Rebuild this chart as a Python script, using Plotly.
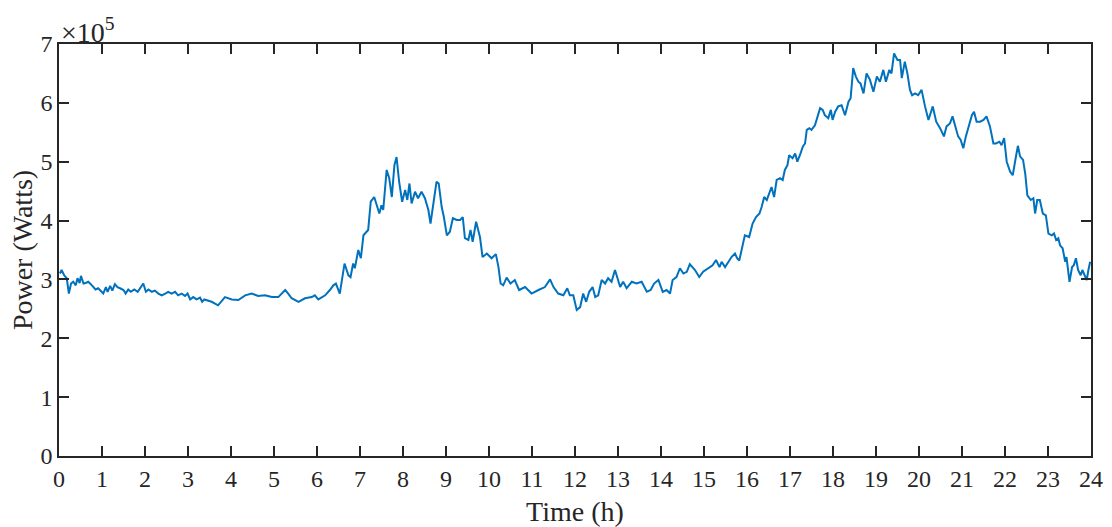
import plotly.graph_objects as go

# Load profile over one day: time in hours, power in units of 1e5 W
time_h = [
    0.02, 0.06, 0.12, 0.18, 0.23, 0.28, 0.33, 0.39, 0.43, 0.48, 0.51, 0.57, 0.62, 0.68, 0.74, 0.80,
    0.85, 0.91, 0.98, 1.03, 1.09, 1.13, 1.19, 1.24, 1.30, 1.36, 1.42, 1.50, 1.55, 1.61, 1.67, 1.75,
    1.83, 1.91, 1.96, 2.02, 2.08, 2.16, 2.23, 2.31, 2.39, 2.47, 2.54, 2.62, 2.70, 2.77, 2.85, 2.93,
    2.99, 3.05, 3.12, 3.20, 3.28, 3.33, 3.38,
    3.55, 3.70, 3.86, 4.02, 4.17, 4.33, 4.48, 4.63, 4.79, 4.95, 5.10, 5.26, 5.33, 5.41, 5.57, 5.72,
    5.88, 5.95, 6.03, 6.19, 6.30, 6.38,
    6.44, 6.53, 6.64, 6.73, 6.78, 6.84, 6.88, 6.96, 7.02, 7.08, 7.19, 7.25, 7.33, 7.39, 7.45, 7.50,
    7.54, 7.62, 7.68, 7.74, 7.80, 7.85, 7.91, 7.98, 8.05, 8.10, 8.15, 8.20, 8.28, 8.35, 8.43, 8.51,
    8.59, 8.64, 8.70, 8.78, 8.83, 8.90, 8.95, 9.02, 9.09, 9.16, 9.25, 9.33, 9.39, 9.44, 9.52, 9.57,
    9.62, 9.70, 9.79, 9.85, 9.95,
    10.06, 10.16, 10.22, 10.27, 10.33, 10.41, 10.50, 10.60, 10.70, 10.84, 10.99, 11.15, 11.30, 11.42,
    11.50, 11.61, 11.73, 11.82, 11.88, 11.96, 12.04, 12.12, 12.19, 12.26, 12.33, 12.41, 12.47, 12.54,
    12.62, 12.70, 12.77, 12.85, 12.93, 12.98, 13.05, 13.12, 13.20, 13.32, 13.43, 13.55, 13.67, 13.76,
    13.84, 13.94, 14.04, 14.13, 14.21, 14.27, 14.36, 14.44, 14.52, 14.60, 14.67, 14.79, 14.89, 14.98,
    15.10, 15.20, 15.28, 15.36,
    15.41, 15.49, 15.57, 15.64, 15.72, 15.77, 15.82, 15.90, 15.95, 16.05, 16.13, 16.21, 16.29, 16.34,
    16.40, 16.46, 16.52, 16.57, 16.63, 16.69, 16.77, 16.83, 16.88, 16.94, 16.98, 17.06, 17.12, 17.17,
    17.23, 17.30, 17.35, 17.39, 17.45, 17.50, 17.58, 17.64, 17.70, 17.76, 17.81, 17.89, 17.95, 17.99,
    18.05, 18.12, 18.20, 18.28, 18.36, 18.41, 18.47, 18.53, 18.59, 18.64, 18.71, 18.78, 18.86, 18.94,
    19.02,
    19.09, 19.17, 19.23, 19.31, 19.36, 19.42, 19.50, 19.56, 19.60, 19.67, 19.73, 19.79, 19.84, 19.91,
    19.98, 20.06, 20.14, 20.22, 20.32, 20.40, 20.49, 20.58, 20.64, 20.72, 20.78, 20.84, 20.91, 20.97,
    21.03, 21.09, 21.15, 21.23, 21.28, 21.34, 21.42, 21.50, 21.57, 21.65, 21.73, 21.79, 21.87, 21.92,
    21.98, 22.04, 22.12, 22.18, 22.26, 22.30, 22.35, 22.42, 22.47, 22.52, 22.60, 22.66, 22.70, 22.75,
    22.81, 22.88, 22.95, 23.01, 23.09, 23.14, 23.19, 23.24, 23.28, 23.34, 23.40, 23.43, 23.50, 23.56,
    23.60, 23.65, 23.70, 23.76, 23.80, 23.86, 23.90, 23.94, 23.98,
]

power_e5 = [
    3.10, 3.16, 3.07, 3.02, 2.76, 2.93, 2.96, 2.90, 3.02, 2.94, 3.06, 2.93, 2.94, 2.96, 2.92, 2.87,
    2.83, 2.85, 2.79, 2.76, 2.87, 2.79, 2.89, 2.81, 2.92, 2.87, 2.85, 2.82, 2.76, 2.83, 2.79, 2.83,
    2.79, 2.87, 2.93, 2.79, 2.83, 2.79, 2.81, 2.76, 2.73, 2.76, 2.79, 2.76, 2.79, 2.73, 2.76, 2.72,
    2.76, 2.66, 2.70, 2.66, 2.69, 2.62, 2.66,
    2.62, 2.56, 2.70, 2.66, 2.65, 2.73, 2.76, 2.72, 2.73, 2.70, 2.70, 2.82, 2.76, 2.68, 2.62, 2.68,
    2.70, 2.73, 2.66, 2.73, 2.82, 2.90,
    2.93, 2.76, 3.27, 3.07, 3.04, 3.27, 3.19, 3.50, 3.36, 3.75, 3.84, 4.32, 4.40, 4.26, 4.12, 4.26,
    4.18, 4.86, 4.72, 4.40, 4.94, 5.08, 4.66, 4.32, 4.52, 4.35, 4.63, 4.29, 4.49, 4.38, 4.49, 4.38,
    4.18, 3.95, 4.23, 4.66, 4.63, 4.23, 4.06, 3.75, 3.81, 4.04, 4.01, 4.01, 4.06, 3.70, 3.67, 3.84,
    3.64, 3.98, 3.72, 3.38, 3.44,
    3.36, 3.43, 3.21, 2.93, 2.90, 3.03, 2.93, 2.99, 2.82, 2.87, 2.76, 2.82, 2.87, 3.00,
    2.87, 2.76, 2.73, 2.85, 2.73, 2.73, 2.48, 2.53, 2.76, 2.62, 2.79, 2.87, 2.70, 2.73,
    2.99, 2.93, 3.02, 2.96, 3.16, 3.04, 2.87, 2.96, 2.85, 2.96, 2.93, 2.96, 2.79, 2.82,
    2.93, 2.99, 2.79, 2.82, 2.76, 2.99, 3.04, 3.19, 3.10, 3.13, 3.26, 3.16, 3.04, 3.13,
    3.19, 3.24, 3.33, 3.21,
    3.30, 3.21, 3.30, 3.38, 3.44, 3.36, 3.32, 3.61, 3.75, 3.72, 3.95, 4.06, 4.12, 4.23,
    4.40, 4.35, 4.46, 4.57, 4.40, 4.69, 4.72, 4.69, 4.86, 4.94, 5.11, 5.06, 5.14, 5.00,
    5.11, 5.26, 5.31, 5.54, 5.57, 5.54, 5.62, 5.79, 5.91, 5.88, 5.79, 5.74, 5.88, 5.71,
    5.85, 5.94, 5.96, 5.79, 6.02, 6.08, 6.59, 6.45, 6.36, 6.33, 6.16, 6.50, 6.39, 6.19,
    6.45,
    6.36, 6.56, 6.36, 6.56, 6.50, 6.84, 6.73, 6.73, 6.42, 6.70, 6.50, 6.22, 6.13, 6.16,
    6.13, 6.22, 5.94, 5.71, 5.94, 5.68, 5.57, 5.43, 5.60, 5.65, 5.77, 5.62, 5.43, 5.37,
    5.23, 5.43, 5.60, 5.79, 5.85, 5.68, 5.68, 5.71, 5.77, 5.60, 5.31, 5.31, 5.34, 5.28,
    5.40, 5.00, 4.83, 4.77, 5.11, 5.27, 5.09, 5.03, 4.80, 4.43, 4.35, 4.38, 4.12, 4.35,
    4.35, 4.12, 4.09, 3.78, 3.75, 3.78, 3.67, 3.70, 3.58, 3.53, 3.30, 3.38, 2.96, 3.21,
    3.24, 3.36, 3.16, 3.07, 3.16, 3.07, 2.99, 3.16, 3.30,
]

x_ticks = list(range(0, 25))
y_ticks = list(range(0, 8))

power_w = [p * 1e5 for p in power_e5]

axis_color = "#262626"
font_family = "Liberation Serif, Times New Roman, serif"

fig = go.Figure()
fig.add_trace(go.Scatter(
    x=time_h, y=power_w, mode="lines",
    line=dict(color="#0072BD", width=2),
    showlegend=False, hoverinfo="skip",
))

fig.update_layout(
    width=1112, height=527,
    margin=dict(l=59, r=21, t=44, b=71),
    paper_bgcolor="white", plot_bgcolor="white",
    font=dict(family=font_family, size=24, color=axis_color),
)

fig.update_xaxes(
    range=[0, 24], tickvals=x_ticks, ticktext=[str(v) for v in x_ticks],
    ticks="inside", ticklen=10, tickwidth=1.5, tickcolor=axis_color,
    showline=True, linecolor=axis_color, linewidth=1.5, mirror="ticks",
    showgrid=False, zeroline=False, automargin=False,
    tickfont=dict(size=24, family=font_family, color=axis_color),
    title=dict(text="Time (h)", font=dict(size=28, family=font_family, color=axis_color), standoff=11),
)
fig.update_yaxes(
    range=[0, 7e5], tickvals=[v * 1e5 for v in y_ticks], ticktext=[str(v) for v in y_ticks],
    ticks="inside", ticklen=10, tickwidth=1.5, tickcolor=axis_color,
    showline=True, linecolor=axis_color, linewidth=1.5, mirror="ticks",
    showgrid=False, zeroline=False, automargin=False,
    tickfont=dict(size=24, family=font_family, color=axis_color),
    title=dict(text="Power (Watts)", font=dict(size=28, family=font_family, color=axis_color), standoff=0),
)

# Exponent marker for the y axis
fig.add_annotation(
    x=0, y=1, xref="paper", yref="paper", xanchor="left", yanchor="bottom",
    text="×10<sup>5</sup>", showarrow=False, xshift=0, yshift=-6,
    font=dict(size=28, family=font_family, color=axis_color),
)

fig.write_html("out.html")
